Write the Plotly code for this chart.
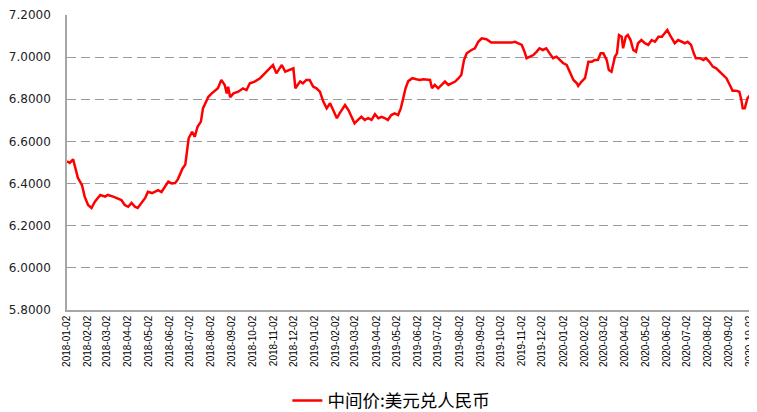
import plotly.graph_objects as go

dates = [
    "2018-01-02","2018-01-06","2018-01-11","2018-01-14","2018-01-18","2018-01-24","2018-01-28","2018-02-02",
    "2018-02-07","2018-02-12","2018-02-20","2018-02-27","2018-03-03","2018-03-11","2018-03-18","2018-03-23",
    "2018-03-28","2018-04-02","2018-04-07","2018-04-12","2018-04-16","2018-04-22","2018-04-27","2018-05-01",
    "2018-05-07","2018-05-11","2018-05-16","2018-05-21","2018-05-26","2018-05-31","2018-06-05","2018-06-10",
    "2018-06-14","2018-06-21","2018-06-25","2018-06-28","2018-06-30","2018-07-05","2018-07-09","2018-07-13",
    "2018-07-18","2018-07-21","2018-07-25","2018-07-29","2018-08-03","2018-08-08","2018-08-12","2018-08-17",
    "2018-08-22","2018-08-25","2018-08-27","2018-08-30","2018-09-04","2018-09-11","2018-09-18","2018-09-23",
    "2018-09-28","2018-10-05","2018-10-13","2018-10-20","2018-10-27","2018-11-01","2018-11-06","2018-11-14",
    "2018-11-19","2018-11-26","2018-12-01","2018-12-04","2018-12-11","2018-12-15","2018-12-20","2018-12-25",
    "2018-12-30","2019-01-04","2019-01-09","2019-01-14","2019-01-19","2019-01-24","2019-01-29","2019-02-03",
    "2019-02-07","2019-02-15","2019-02-20","2019-02-25","2019-03-01","2019-03-06","2019-03-11","2019-03-16",
    "2019-03-21","2019-03-26","2019-03-31","2019-04-05","2019-04-10","2019-04-15","2019-04-19","2019-04-24",
    "2019-04-29","2019-05-04","2019-05-08","2019-05-11","2019-05-15","2019-05-19","2019-05-25","2019-05-31",
    "2019-06-05","2019-06-10","2019-06-20","2019-06-23","2019-06-27","2019-07-02","2019-07-07","2019-07-12",
    "2019-07-17","2019-07-22","2019-07-27","2019-08-01","2019-08-05","2019-08-09","2019-08-13","2019-08-20",
    "2019-08-25","2019-08-30","2019-09-04","2019-09-11","2019-09-18","2019-09-28","2019-10-08","2019-10-18",
    "2019-10-23","2019-10-28","2019-11-02","2019-11-06","2019-11-09","2019-11-14","2019-11-19","2019-11-24",
    "2019-11-28","2019-12-03","2019-12-08","2019-12-13","2019-12-18","2019-12-23","2019-12-28","2020-01-02",
    "2020-01-07","2020-01-12","2020-01-17","2020-01-22","2020-01-24","2020-01-29","2020-02-03","2020-02-08",
    "2020-02-13","2020-02-17","2020-02-22","2020-02-26","2020-03-01","2020-03-06","2020-03-09","2020-03-13",
    "2020-03-18","2020-03-21","2020-03-24","2020-03-28","2020-03-30","2020-04-03","2020-04-06","2020-04-10",
    "2020-04-14","2020-04-18","2020-04-21","2020-04-26","2020-05-01","2020-05-06","2020-05-11","2020-05-16",
    "2020-05-21","2020-05-26","2020-05-31","2020-06-03","2020-06-07","2020-06-11","2020-06-14","2020-06-19",
    "2020-06-24","2020-06-29","2020-07-03","2020-07-08","2020-07-12","2020-07-15","2020-07-21","2020-07-26",
    "2020-07-30","2020-08-04","2020-08-09","2020-08-14","2020-08-19","2020-08-24","2020-08-29","2020-09-03",
    "2020-09-07","2020-09-12","2020-09-17","2020-09-20","2020-09-22","2020-09-25","2020-09-29","2020-10-03",
    "2020-10-08","2020-10-13",
]

rates = [
    6.505, 6.498, 6.515, 6.474, 6.427, 6.393, 6.338, 6.298,
    6.284, 6.314, 6.346, 6.338, 6.346, 6.338, 6.330, 6.322,
    6.298, 6.290, 6.308, 6.290, 6.284, 6.308, 6.332, 6.361,
    6.355, 6.361, 6.369, 6.360, 6.385, 6.409, 6.401, 6.402,
    6.420, 6.472, 6.490, 6.575, 6.615, 6.646, 6.622, 6.670,
    6.694, 6.757, 6.789, 6.812, 6.828, 6.844, 6.852, 6.892,
    6.868, 6.828, 6.860, 6.810, 6.828, 6.836, 6.852, 6.844,
    6.876, 6.884, 6.900, 6.923, 6.947, 6.963, 6.923, 6.963,
    6.931, 6.939, 6.947, 6.852, 6.885, 6.876, 6.892, 6.892,
    6.860, 6.852, 6.836, 6.789, 6.757, 6.781, 6.749, 6.710,
    6.733, 6.773, 6.749, 6.710, 6.686, 6.702, 6.717, 6.702,
    6.710, 6.702, 6.729, 6.710, 6.717, 6.710, 6.702, 6.725,
    6.733, 6.725, 6.757, 6.797, 6.852, 6.886, 6.900, 6.895,
    6.892, 6.895, 6.892, 6.852, 6.868, 6.852, 6.868, 6.884,
    6.868, 6.876, 6.884, 6.900, 6.915, 6.986, 7.018, 7.034,
    7.042, 7.073, 7.089, 7.085, 7.069, 7.069, 7.069, 7.069,
    7.073, 7.066, 7.058, 7.026, 6.995, 7.002, 7.010, 7.026,
    7.042, 7.034, 7.042, 7.018, 6.995, 7.002, 6.986, 6.971,
    6.963, 6.931, 6.892, 6.876, 6.863, 6.884, 6.900, 6.978,
    6.978, 6.986, 6.986, 7.018, 7.018, 6.986, 6.939, 6.931,
    7.002, 7.018, 7.105, 7.097, 7.042, 7.097, 7.105, 7.081,
    7.034, 7.026, 7.066, 7.081, 7.066, 7.058, 7.081, 7.073,
    7.097, 7.097, 7.121, 7.129, 7.105, 7.081, 7.066, 7.081,
    7.073, 7.066, 7.073, 7.058, 7.018, 6.995, 6.995, 6.986,
    6.995, 6.978, 6.955, 6.947, 6.931, 6.915, 6.900, 6.868,
    6.841, 6.841, 6.836, 6.797, 6.757, 6.757, 6.805, 6.820,
    6.797, 6.773,
]

tick_dates = [
    "2018-01-02","2018-02-02","2018-03-02","2018-04-02","2018-05-02","2018-06-02","2018-07-02","2018-08-02",
    "2018-09-02","2018-10-02","2018-11-02","2018-12-02","2019-01-02","2019-02-02","2019-03-02","2019-04-02",
    "2019-05-02","2019-06-02","2019-07-02","2019-08-02","2019-09-02","2019-10-02","2019-11-02","2019-12-02",
    "2020-01-02","2020-02-02","2020-03-02","2020-04-02","2020-05-02","2020-06-02","2020-07-02","2020-08-02",
    "2020-09-02","2020-10-02",
]
y_ticks = [5.8, 6.0, 6.2, 6.4, 6.6, 6.8, 7.0, 7.2]
series_name = "中间价:美元兑人民币"

fig = go.Figure()
fig.add_trace(go.Scatter(
    x=dates, y=rates, mode="lines", name=series_name,
    line=dict(color="#FF0000", width=2.5),
))

# the page body keeps an 8px margin, so the figure is sized to fit inside it
fig.update_layout(
    width=749, height=404,
    margin=dict(l=59, r=0, t=7, b=102),
    paper_bgcolor="white", plot_bgcolor="white",
    showlegend=True,
    legend=dict(
        orientation="h",
        xref="container", x=0.373, xanchor="left",
        yref="container", y=0.028, yanchor="middle",
        font=dict(family="Noto Sans CJK SC, sans-serif", size=17.5, color="#000000"),
        bgcolor="rgba(0,0,0,0)",
    ),
    xaxis=dict(
        type="date",
        range=["2018-01-02", "2020-10-13"],
        tickvals=tick_dates,
        ticktext=tick_dates,
        tickangle=-90,
        tickfont=dict(family="Liberation Sans, Arial, sans-serif", size=10, color="#000000"),
        showgrid=False,
        showline=True, linecolor="#A6A6A6", linewidth=1.5,
        ticks="", zeroline=False,
        automargin=False,
    ),
    yaxis=dict(
        range=[5.8, 7.2],
        tickvals=y_ticks,
        tickformat=".4f",
        tickfont=dict(family="DejaVu Sans, Verdana, sans-serif", size=12, color="#222222"),
        ticklabelstandoff=12,
        showgrid=True, gridcolor="#9A9A9A", gridwidth=1, griddash="9px,5px",
        showline=True, linecolor="#A6A6A6", linewidth=1.5,
        ticks="", zeroline=False,
        automargin=False,
    ),
)

fig.write_html("out.html")
